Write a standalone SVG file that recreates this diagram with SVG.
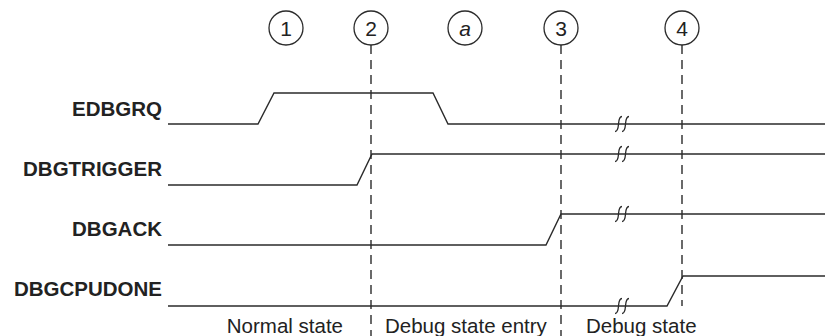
<svg xmlns="http://www.w3.org/2000/svg" width="825" height="336" viewBox="0 0 825 336">
<style>
.sig{fill:none;stroke:#2b2b2b;stroke-width:1.4}
.dash{fill:none;stroke:#2b2b2b;stroke-width:1.4;stroke-dasharray:9 6}
.brk{fill:none;stroke:#2b2b2b;stroke-width:1.3}
.mk{fill:#fff;stroke:#2b2b2b;stroke-width:1.3}
.mt{font-family:"Liberation Sans",Arial,sans-serif;font-size:21px;fill:#222;text-anchor:middle}
.lbl{font-family:"Liberation Sans",Arial,sans-serif;font-size:20.5px;font-weight:bold;fill:#222;text-anchor:end}
.st{font-family:"Liberation Sans",Arial,sans-serif;font-size:20.5px;fill:#222}
</style>
<defs>
<g id="brkmark"><path class="brk" d="M-6,7.5 q3,0 3.5,-7.5 q0.5,-7.5 3.5,-7.5 M1,7.5 q3,0 3.5,-7.5 q0.5,-7.5 3.5,-7.5"/></g>
</defs>
<g id="markers">
<g id="m1"><circle class="mk" cx="286" cy="28" r="17"/><text class="mt" x="286" y="35.5">1</text></g>
<g id="m2"><circle class="mk" cx="371" cy="28" r="17"/><text class="mt" x="371" y="35.5">2</text></g>
<g id="ma"><circle class="mk" cx="465" cy="28" r="17"/><text class="mt" x="465" y="35.5" font-style="italic">a</text></g>
<g id="m3"><circle class="mk" cx="561" cy="28" r="17"/><text class="mt" x="561" y="35.5">3</text></g>
<g id="m4"><circle class="mk" cx="682" cy="28" r="17"/><text class="mt" x="682" y="35.5">4</text></g>
</g>
<g id="connectors">
<line class="dash" x1="371" y1="45" x2="371" y2="336"/>
<line class="dash" x1="561" y1="45" x2="561" y2="336"/>
<line class="dash" x1="682" y1="45" x2="682" y2="306"/>
</g>
<g id="edbgrq">
<text class="lbl" x="162" y="116">EDBGRQ</text>
<polyline class="sig" points="168,124 258,124 274,93 433,93 448,124 825,124"/>
<use href="#brkmark" x="621" y="124"/>
</g>
<g id="dbgtrigger">
<text class="lbl" x="162" y="176">DBGTRIGGER</text>
<polyline class="sig" points="168,185 357,185 372,154 825,154"/>
<use href="#brkmark" x="621" y="154"/>
</g>
<g id="dbgack">
<text class="lbl" x="162" y="236">DBGACK</text>
<polyline class="sig" points="168,245 546,245 561,214 825,214"/>
<use href="#brkmark" x="621" y="214"/>
</g>
<g id="dbgcpudone">
<text class="lbl" x="162" y="296">DBGCPUDONE</text>
<polyline class="sig" points="168,306 667,306 683,276 825,276"/>
<use href="#brkmark" x="621" y="306"/>
</g>
<g id="states">
<text class="st" x="343" y="333" text-anchor="end">Normal state</text>
<text class="st" x="385" y="333">Debug state entry</text>
<text class="st" x="586" y="333">Debug state</text>
</g>
</svg>
